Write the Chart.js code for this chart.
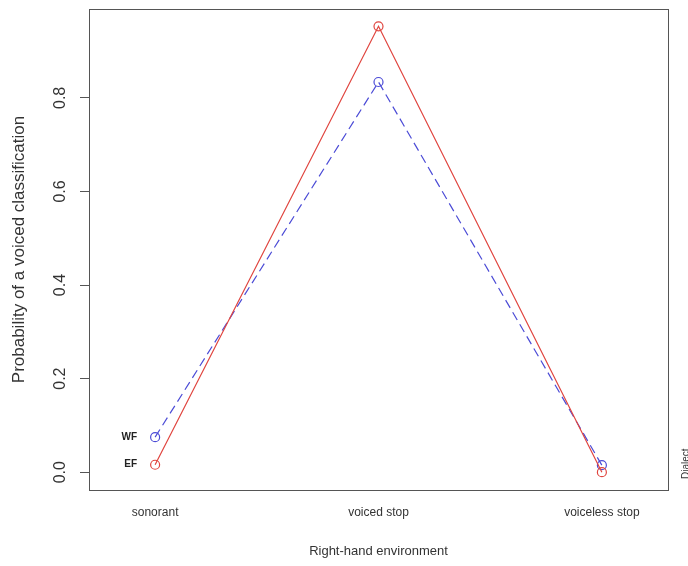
<!DOCTYPE html>
<html>
<head>
<meta charset="utf-8">
<script src="https://cdn.jsdelivr.net/npm/chart.js@4"></script>
<style>
  html, body { margin: 0; padding: 0; background: #fff; }
  #wrap { width: 688px; height: 566px; }
</style>
</head>
<body>
<div id="wrap"><canvas id="envChart" width="688" height="566"></canvas></div>
<script>
const categories = ["sonorant", "voiced stop", "voiceless stop"];
const efValues = [0.016, 0.953, 0.0];
const wfValues = [0.075, 0.834, 0.015];
const yTicks = [0, 0.2, 0.4, 0.6, 0.8];
const seriesNames = ["EF", "WF"];

const FONT = "'Liberation Sans', Arial, Helvetica, sans-serif";

// frame, rotated y tick labels, series labels and the clipped legend title
const extras = {
    id: "extras",
    afterDraw(chart) {
        const ctx = chart.ctx;
        const a = chart.chartArea;
        const xs = chart.scales.x, ys = chart.scales.y;
        ctx.save();
        ctx.strokeStyle = "#555";
        ctx.lineWidth = 1;
        ctx.strokeRect(a.left + 0.5, a.top + 0.5, a.right - a.left, a.bottom - a.top);

        ctx.fillStyle = "#333";
        ctx.font = "16px " + FONT;
        ctx.textAlign = "center";
        ctx.textBaseline = "middle";
        yTicks.forEach(v => {
            ctx.save();
            ctx.translate(61, ys.getPixelForValue(v));
            ctx.rotate(-Math.PI / 2);
            ctx.fillText(v.toFixed(1), 0, 0);
            ctx.restore();
        });

        ctx.font = "bold 10px " + FONT;
        ctx.fillStyle = "#222";
        ctx.textAlign = "right";
        const x0 = xs.getPixelForValue(1) - 18;
        ctx.fillText(seriesNames[0], x0, ys.getPixelForValue(efValues[0]));
        ctx.fillText(seriesNames[1], x0, ys.getPixelForValue(wfValues[0]));

        ctx.font = "10px " + FONT;
        ctx.fillStyle = "#333";
        ctx.textAlign = "left";
        ctx.textBaseline = "top";
        ctx.translate(681, 479);
        ctx.rotate(-Math.PI / 2);
        ctx.fillText("Dialect", 0, 0);
        ctx.restore();
    }
};

const toPoints = vals => vals.map((v, i) => ({ x: i + 1, y: v }));

new Chart(document.getElementById("envChart"), {
    type: "line",
    data: {
        datasets: [{
            label: seriesNames[0],
            data: toPoints(efValues),
            borderColor: "#e0453f",
            backgroundColor: "transparent",
            borderWidth: 1.2,
            pointRadius: 4.5,
            pointBorderWidth: 1.2,
            pointBackgroundColor: "transparent",
            pointBorderColor: "#e0453f",
            tension: 0,
            clip: false
        }, {
            label: seriesNames[1],
            data: toPoints(wfValues),
            borderColor: "#4b4bd6",
            backgroundColor: "transparent",
            borderWidth: 1.2,
            borderDash: [9, 5],
            pointRadius: 4.5,
            pointBorderWidth: 1.2,
            pointBackgroundColor: "transparent",
            pointBorderColor: "#4b4bd6",
            tension: 0,
            clip: false
        }]
    },
    options: {
        responsive: false,
        animation: false,
        layout: { padding: { top: 9, right: 20, bottom: 0, left: 0 } },
        plugins: {
            legend: { display: false },
            tooltip: { enabled: false }
        },
        scales: {
            x: {
                type: "linear",
                min: 0.704,
                max: 3.296,
                afterBuildTicks: s => { s.ticks = categories.map((c, i) => ({ value: i + 1 })); },
                afterFit: s => { s.height = 76; },
                grid: { display: false, drawTicks: false },
                border: { display: false },
                ticks: {
                    padding: 15,
                    maxRotation: 0,
                    autoSkip: false,
                    color: "#333",
                    font: { family: FONT, size: 12 },
                    callback: v => categories[v - 1]
                },
                title: {
                    display: true,
                    text: "Right-hand environment",
                    color: "#333",
                    font: { family: FONT, size: 13 },
                    padding: { top: 0, bottom: 7 }
                }
            },
            y: {
                min: -0.038,
                max: 0.99,
                afterBuildTicks: s => { s.ticks = yTicks.map(v => ({ value: v })); },
                afterFit: s => { s.width = 89; },
                grid: {
                    drawOnChartArea: false,
                    drawTicks: true,
                    tickLength: 9,
                    color: "#555"
                },
                border: { display: false },
                ticks: { display: false },
                title: {
                    display: true,
                    text: "Probability of a voiced classification",
                    color: "#333",
                    font: { family: FONT, size: 17 },
                    padding: { top: 9, bottom: 0 }
                }
            }
        }
    },
    plugins: [extras]
});
</script>
</body>
</html>
